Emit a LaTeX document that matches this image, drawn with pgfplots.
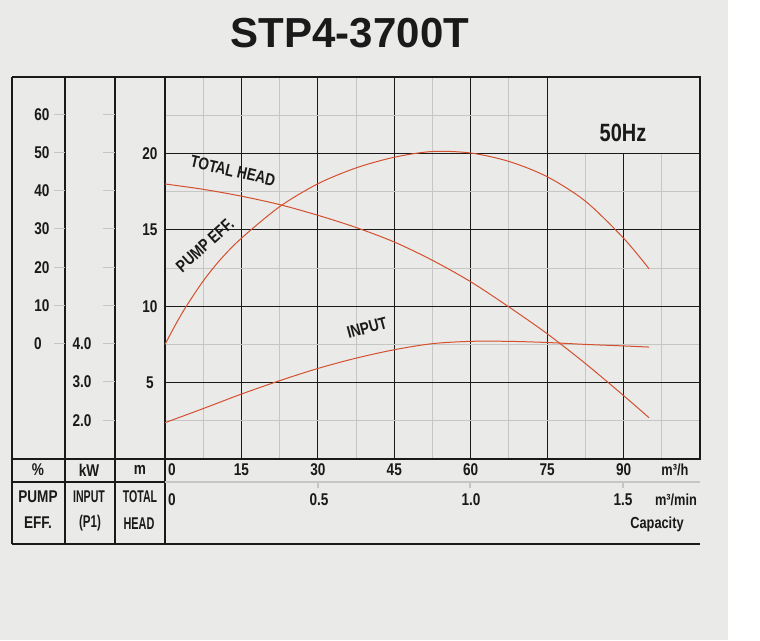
\documentclass[border=0pt]{standalone}
\usepackage{fontspec}
\setmainfont{Liberation Sans}[FakeStretch=0.8]
\newfontfamily\titlefont{Liberation Sans}
\usepackage{pgfplots}
\pgfplotsset{compat=1.18}
\usepackage{pgfplotstable}
\definecolor{bg}{HTML}{EAEAE8}
\definecolor{curve}{HTML}{D4502F}
\definecolor{minorg}{HTML}{C6C6C4}
\definecolor{ink}{HTML}{1A1A1A}
\newcommand{\lf}{\fontsize{17}{17}\selectfont\bfseries}
\newcommand{\uf}{\fontsize{16}{16}\selectfont\bfseries}

% capacity (m3/h) vs total head (m)
\pgfplotstableread{
q h
0 18.0
7.5 17.65
15 17.2
22.5 16.65
30 15.95
37.5 15.15
45 14.2
52.5 13.0
60 11.6
67.5 9.95
75 8.2
82.5 6.25
90 4.15
95 2.7
}\headdata
% capacity vs pump efficiency (%)
\pgfplotstableread{
q eff
0 0
2 5.0
4 9.6
7.5 16.6
11 22.4
15 27.8
22.5 36.05
30 42.05
37.5 46.2
45 49.0
52.5 50.5
60 50.1
67.5 47.9
75 43.9
82.5 37.5
90 27.8
95 19.8
}\effdata
% capacity vs input power P1 (kW)
\pgfplotstableread{
q kw
0 1.95
7.5 2.32
15 2.70
22.5 3.05
30 3.37
37.5 3.64
45 3.86
52.5 4.02
60 4.08
67.5 4.08
75 4.05
82.5 4.00
90 3.96
95 3.93
}\kwdata

\begin{document}
\begin{tikzpicture}[x=1pt,y=1pt]
\useasboundingbox (0,0) rectangle (760,640);
\fill[white] (0,0) rectangle (760,640);
\fill[bg] (0,0) rectangle (728,640);

\node[font=\titlefont\fontsize{42}{42}\selectfont\bfseries, text=ink, inner sep=0pt, anchor=center] at (350,607) {STP4-3700T};

\begin{axis}[
  at={(165pt,181pt)}, anchor=south west,
  scale only axis, width=535pt, height=382pt,
  xmin=0, xmax=105, ymin=0, ymax=25,
  xtick={0,15,...,105}, minor xtick={7.5,22.5,...,97.5},
  ytick={5,10,15,20}, minor ytick={2.5,7.5,...,22.5},
  grid=both,
  major grid style={ink, line width=1.1pt},
  minor grid style={minorg, line width=0.9pt},
  major tick length=0pt, minor tick length=0pt,
  axis line style={ink, line width=1.6pt},
  xticklabels={,15,30,45,60,75,90,},
  yticklabels={5,10,15,20},
  xticklabel style={font=\lf, text=ink, anchor=center, yshift=-11pt},
  yticklabel style={font=\lf, text=ink, anchor=center, xshift=-15pt},
  clip=false,
]
\fill[bg] (axis cs:75,20) rectangle (axis cs:105,25);
\draw[ink, line width=1.1pt] (axis cs:75,25) -- (axis cs:75,20) -- (axis cs:105,20);
\draw[ink, line width=1.6pt] (axis cs:75,25) -- (axis cs:105,25) -- (axis cs:105,20);
\addplot[curve, line width=1pt, smooth] table[x=q, y=h] {\headdata};
\addplot[curve, line width=1pt, smooth] table[x=q, y expr=\thisrow{eff}/4+7.5] {\effdata};
\addplot[curve, line width=1pt, smooth] table[x=q, y expr=(\thisrow{kw}-4)*2.5+7.5] {\kwdata};
\end{axis}

% left table frame
\begin{scope}[ink, line width=1.6pt]
\draw (12,563) -- (165,563);
\draw (12,563) -- (12,96);
\draw (65,563) -- (65,96);
\draw (115,563) -- (115,96);
\draw (165,181) -- (165,96);
\draw (12,181) -- (165,181);
\draw (12,158) -- (165,158);
\draw (12,96) -- (700,96);
\end{scope}
\draw[minorg, line width=1.2pt] (165,158) -- (700,158);
\foreach \xx in {318,470,623} \draw[minorg, line width=1.2pt] (\xx,158) -- (\xx,152);

% left scale ticks
\foreach \yy in {525,487,449,411,372,334,296} \draw[minorg, line width=1pt] (54,\yy) -- (65,\yy);
\foreach \yy in {525,487,449,411,372,334,296,258,219} \draw[minorg, line width=1pt] (103,\yy) -- (115,\yy);

\begin{scope}[every node/.style={font=\lf, text=ink, inner sep=0pt, anchor=center}]
\node at (42,525) {60};
\node at (42,487) {50};
\node at (42,449) {40};
\node at (42,411) {30};
\node at (42,372) {20};
\node at (42,334) {10};
\node at (38,296) {0};
\node at (82,296) {4.0};
\node at (82,258) {3.0};
\node at (82,219) {2.0};

\node at (38,170) {\%};
\node at (89,170) {kW};
\node at (140,170) {m};
\node at (38,143) {PUMP};
\node at (38,117) {EFF.};
\node[xscale=0.78] at (89,143) {INPUT};
\node[xscale=0.85] at (90,117) {(P1)};
\node[xscale=0.78] at (140,143) {TOTAL};
\node[xscale=0.8] at (139,116) {HEAD};

\node at (172,170) {0};
\node at (172,140) {0};
\node at (319,140) {0.5};
\node at (471,140) {1.0};
\node at (623,140) {1.5};
\node[font=\uf] at (675,170) {m³/h};
\node[font=\uf] at (676,140) {m³/min};
\node[font=\uf] at (657,116) {Capacity};

\node[font=\fontsize{25}{25}\selectfont\bfseries] at (623,507) {50Hz};
\node[rotate=-13] at (233,469) {TOTAL HEAD};
\node[rotate=42] at (205,395) {PUMP EFF.};
\node[rotate=15] at (367,312) {INPUT};
\end{scope}
\end{tikzpicture}
\end{document}
